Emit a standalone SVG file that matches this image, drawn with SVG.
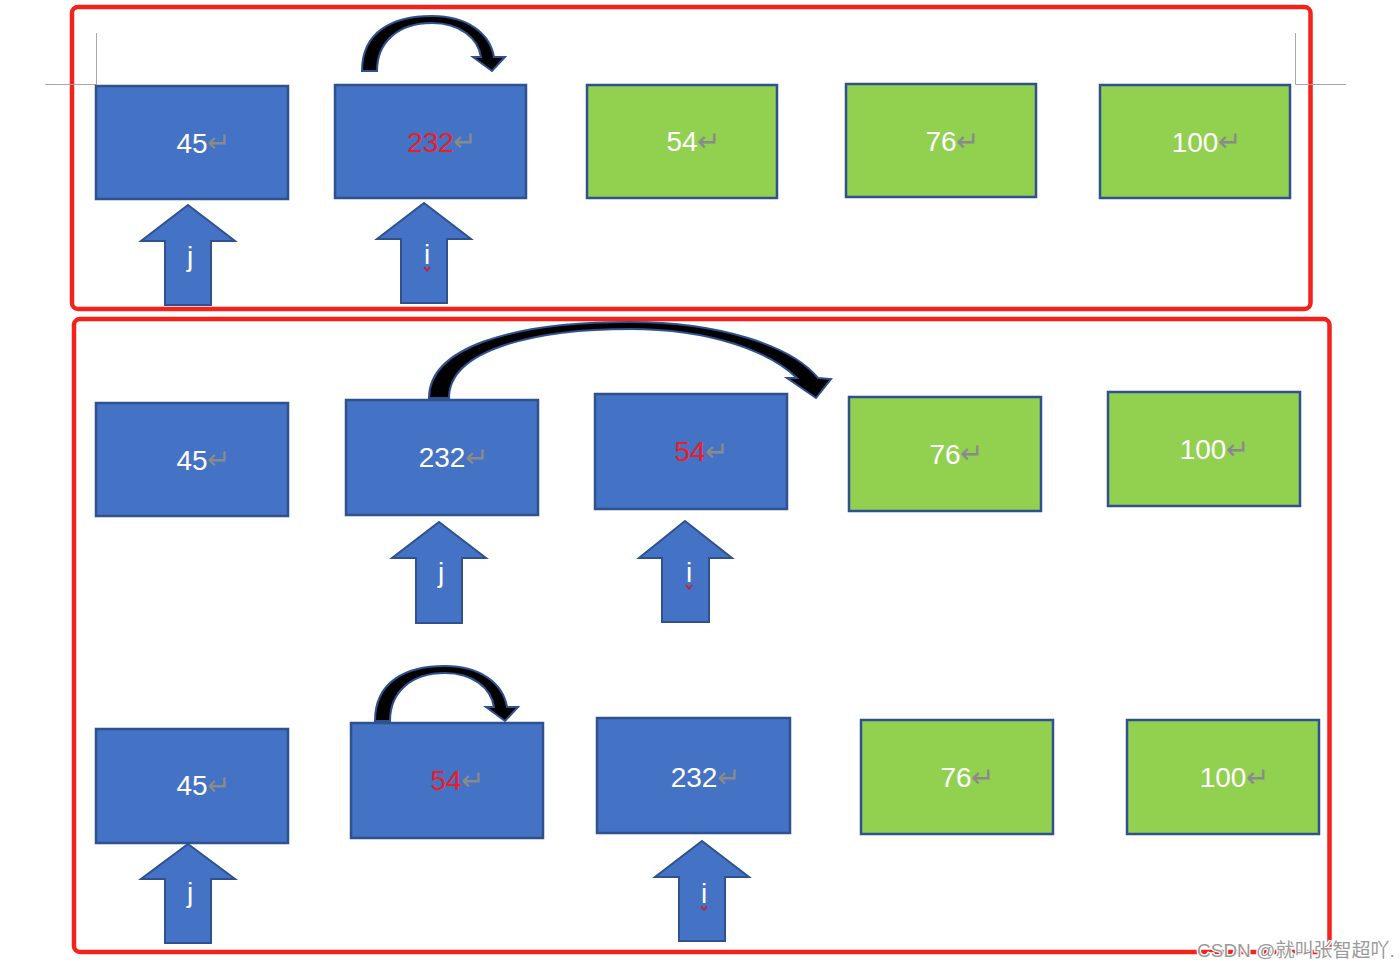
<svg xmlns="http://www.w3.org/2000/svg" width="1400" height="968" viewBox="0 0 1400 968">
<style>
.frame{fill:none;stroke:#f5211b;stroke-width:4.5}
.mark{stroke:#a8a8a8;stroke-width:1;fill:none}
.blue{fill:#4472c4;stroke:#2f528f;stroke-width:2.5}
.green{fill:#92d050;stroke:#2f528f;stroke-width:2.5}
.num{font-family:"Liberation Sans","DejaVu Sans",sans-serif;font-size:28px;text-anchor:middle;fill:#ffffff}
.red{fill:#ee1c24}
.ret{font-family:"DejaVu Sans",sans-serif;font-size:28px;fill:#8a8a8a}
.ptr{fill:#4472c4;stroke:#2f528f;stroke-width:2}
.lbl{font-family:"Liberation Sans","DejaVu Sans",sans-serif;font-size:28px;text-anchor:middle;fill:#ffffff}
.curve{fill:#000000;stroke:#2f528f;stroke-width:2;stroke-linejoin:miter}
.sq{fill:none;stroke:#e0101a;stroke-width:1.3}
.wm{font-family:"Liberation Sans","Noto Sans CJK SC",sans-serif;font-size:19px;fill:#9a9a9a;stroke:#ffffff;stroke-width:2.5;paint-order:stroke}
</style>
<rect width="1400" height="968" fill="#ffffff"/>
<g id="frames">
<rect class="frame" x="72" y="7" width="1238.5" height="302" rx="6"/>
<rect class="frame" x="74" y="319" width="1255.5" height="633" rx="6"/>
</g>
<g id="cropmarks">
<path class="mark" d="M96.5,33 V84.5 H45"/>
<path class="mark" d="M1295.5,33 V84.5 H1346"/>
<line x1="97.5" y1="86" x2="97.5" y2="128" stroke="#c9b793" stroke-width="1.5"/>
</g>
<g id="connectors">
<path class="curve" d="M362,71 C362,32 392,16 432,16 C468,16 490,34 494,57 L505,57 L492,71 L473,57 L481,57 C478,38 460,23 432,23 C398,23 377,42 377,71 Z"/>
<path class="curve" d="M429,398 C429,348 510,322 630,322 C720,322 792,346 818,378 L831,379 L816,398 L787,378 L797,378 C770,352 712,329 630,329 C540,329 449,348 449,398 Z"/>
<path class="curve" transform="translate(13,650)" d="M362,71 C362,32 392,16 432,16 C468,16 490,34 494,57 L505,57 L492,71 L473,57 L481,57 C478,38 460,23 432,23 C398,23 377,42 377,71 Z"/>
</g>
<g id="row1">
<g id="r1-45"><rect class="blue" x="96" y="86" width="192" height="113"/><text class="num" x="192" y="152.5">45</text><text class="ret" x="207" y="152">↵</text></g>
<g id="r1-232"><rect class="blue" x="335" y="85" width="191" height="113"/><text class="num red" x="430.5" y="151.5">232</text><text class="ret" x="453" y="151">↵</text></g>
<g id="r1-54"><rect class="green" x="587" y="85" width="190" height="113"/><text class="num" x="682" y="151">54</text><text class="ret" x="697" y="150.5">↵</text></g>
<g id="r1-76"><rect class="green" x="846" y="84" width="190" height="113"/><text class="num" x="941" y="151">76</text><text class="ret" x="956" y="150.5">↵</text></g>
<g id="r1-100"><rect class="green" x="1100" y="85" width="190" height="113"/><text class="num" x="1195" y="151.5">100</text><text class="ret" x="1218" y="151">↵</text></g>
<g id="r1-j"><polygon class="ptr" points="188,205 235,241 211,241 211,305 165,305 165,241 141,241"/><text class="lbl" x="190" y="266">j</text></g>
<g id="r1-i"><polygon class="ptr" points="424,203 471,239 447,239 447,303 401,303 401,239 377,239"/><text class="lbl" x="427" y="264">i</text><path class="sq" d="M424,267 L427,271 L430,267"/></g>
</g>
<g id="row2">
<g id="r2-45"><rect class="blue" x="96" y="403" width="192" height="113"/><text class="num" x="192" y="469.5">45</text><text class="ret" x="207" y="469">↵</text></g>
<g id="r2-232"><rect class="blue" x="346" y="400" width="192" height="115"/><text class="num" x="442" y="467">232</text><text class="ret" x="465" y="466.5">↵</text></g>
<g id="r2-54"><rect class="blue" x="595" y="394" width="192" height="115"/><text class="num red" x="690" y="461">54</text><text class="ret" x="705" y="460.5">↵</text></g>
<g id="r2-76"><rect class="green" x="849" y="397" width="192" height="114"/><text class="num" x="945" y="463.5">76</text><text class="ret" x="960" y="463">↵</text></g>
<g id="r2-100"><rect class="green" x="1108" y="392" width="192" height="114"/><text class="num" x="1203" y="459">100</text><text class="ret" x="1226" y="458.5">↵</text></g>
<g id="r2-j"><polygon class="ptr" points="439,522 486,558 462,558 462,623 416,623 416,558 392,558"/><text class="lbl" x="441" y="582">j</text></g>
<g id="r2-i"><polygon class="ptr" points="685,521 732,558 709,558 709,622 662,622 662,558 639,558"/><text class="lbl" x="689" y="582">i</text><path class="sq" d="M686,585 L689,589 L692,585"/></g>
</g>
<g id="row3">
<g id="r3-45"><rect class="blue" x="96" y="729" width="192" height="114"/><text class="num" x="192" y="795">45</text><text class="ret" x="207" y="794.5">↵</text></g>
<g id="r3-54"><rect class="blue" x="351" y="723" width="192" height="115"/><text class="num red" x="446" y="790">54</text><text class="ret" x="461" y="789.5">↵</text></g>
<g id="r3-232"><rect class="blue" x="597" y="718" width="193" height="115"/><text class="num" x="694" y="787">232</text><text class="ret" x="717" y="786.5">↵</text></g>
<g id="r3-76"><rect class="green" x="861" y="720" width="192" height="114"/><text class="num" x="956" y="787">76</text><text class="ret" x="971" y="786.5">↵</text></g>
<g id="r3-100"><rect class="green" x="1127" y="720" width="192" height="114"/><text class="num" x="1223" y="787">100</text><text class="ret" x="1246" y="786.5">↵</text></g>
<g id="r3-j"><polygon class="ptr" points="188,844 235,879 211,879 211,943 165,943 165,879 141,879"/><text class="lbl" x="190" y="902">j</text></g>
<g id="r3-i"><polygon class="ptr" points="702,841 749,877 725,877 725,941 679,941 679,877 655,877"/><text class="lbl" x="704" y="903">i</text><path class="sq" d="M701,906 L704,910 L707,906"/></g>
</g>
<text class="wm" x="1197" y="957">CSDN @就叫张智超吖.</text>
</svg>
